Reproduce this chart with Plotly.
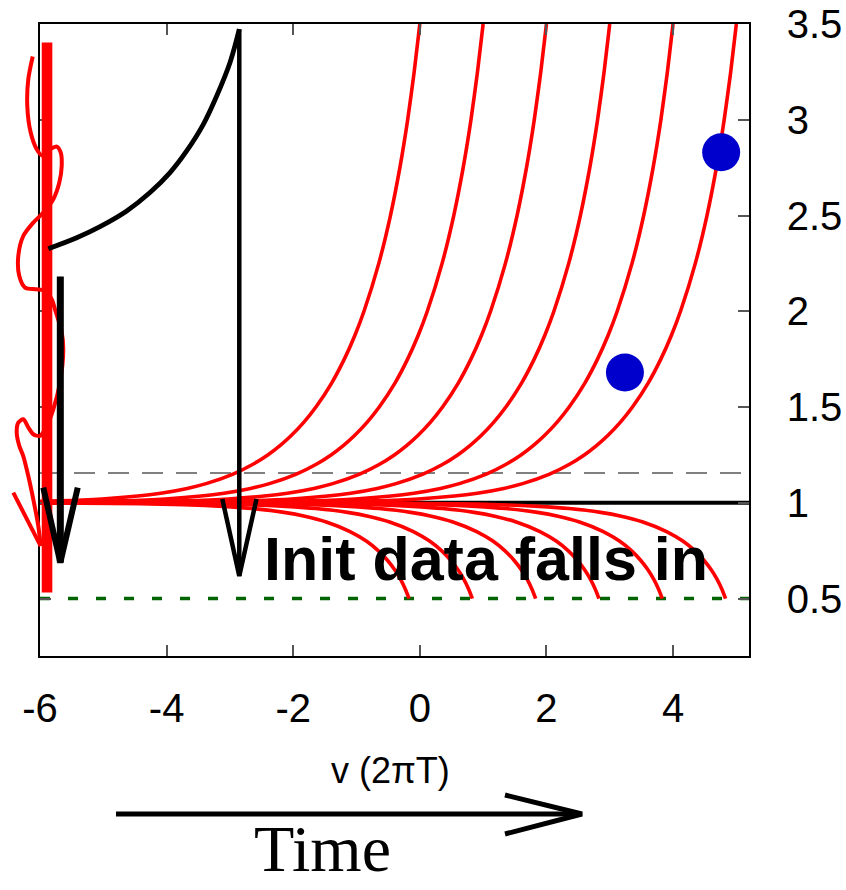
import plotly.graph_objects as go

# ---------------- data ----------------
# Outgoing / infalling null rays: one shared profile (radius vs. v offset from the
# point where the ray leaves the frame), shifted to each ray's exit time.
UP_R = [1.00001, 1.00002, 1.00005, 1.0001, 1.0002, 1.0005, 1.001, 1.002, 1.005,
        1.01, 1.02, 1.035, 1.05, 1.075, 1.1, 1.15, 1.2, 1.25, 1.3, 1.35, 1.42,
        1.5, 1.625, 1.75, 1.875, 2.0, 2.25, 2.5, 2.75, 3.0, 3.25, 3.5]
UP_DV = [-12.633, -11.939, -11.023, -10.330, -9.637, -8.720, -8.027, -7.333,
         -6.415, -5.720, -5.022, -4.455, -4.093, -3.674, -3.376, -2.950, -2.643,
         -2.402, -2.204, -2.035, -1.834, -1.641, -1.393, -1.193, -1.025, -0.882,
         -0.648, -0.464, -0.315, -0.192, -0.089, 0.0]
UP_END_V = [0.0, 1.0, 2.0, 3.0, 4.0, 5.0]

DN_R = [0.999995, 0.99999, 0.99998, 0.99995, 0.9999, 0.9998, 0.9995, 0.999,
        0.998, 0.995, 0.99, 0.98, 0.97, 0.95, 0.93, 0.9, 0.85, 0.8, 0.75, 0.7,
        0.65, 0.6, 0.55, 0.5]
DN_DV = [-11.157, -10.464, -9.771, -8.855, -8.161, -7.468, -6.552, -5.859,
         -5.167, -4.252, -3.561, -2.873, -2.473, -1.973, -1.647, -1.307, -0.932,
         -0.676, -0.488, -0.342, -0.227, -0.134, -0.060, 0.0]
DN_END_V = [-0.17, 0.83, 1.83, 2.83, 3.83, 4.83]

HORIZON_R = 1.0
DASH_R = 1.155
FLOOR_R = 0.5

DOT_V = [4.76, 3.24]
DOT_R = [2.83, 1.68]

# initial-data slice and its hand-drawn squiggle
BAR_V = [-5.889, -5.889]
BAR_R = [0.531, 3.403]
SQUIGGLE_V = [-6.115, -6.185, -6.201, -6.147, -6.052, -5.973, -5.842, -5.736,
              -5.673, -5.657, -5.695, -5.790, -5.948, -6.106, -6.264, -6.343,
              -6.327, -6.237, -6.052, -5.921, -5.815, -5.763, -5.657, -5.632,
              -5.684, -5.790, -5.894, -6.000, -6.106, -6.185, -6.264, -6.343,
              -6.368, -6.327, -6.264, -6.185, -6.106, -6.027, -5.989]
SQUIGGLE_R = [3.330, 3.211, 3.072, 2.933, 2.846, 2.815, 2.846, 2.860, 2.829,
              2.759, 2.672, 2.585, 2.515, 2.463, 2.393, 2.289, 2.184, 2.124,
              2.115, 2.106, 2.063, 2.010, 1.890, 1.802, 1.629, 1.488, 1.401,
              1.349, 1.358, 1.394, 1.436, 1.419, 1.367, 1.297, 1.244, 1.140,
              1.018, 0.879, 0.774]
SQUIGGLE_HEAD_V = [-6.422, -5.989]
SQUIGGLE_HEAD_R = [1.053, 0.774]

# black curve and the two drop arrows
CURVE_V = [-5.869, -5.420, -5.052, -4.630, -4.262, -3.946, -3.683, -3.420,
           -3.209, -2.998, -2.852]
CURVE_R = [2.327, 2.384, 2.442, 2.524, 2.620, 2.724, 2.837, 2.976, 3.124,
           3.299, 3.473]
ARROW1_V = [-2.852, -2.852]
ARROW1_R = [3.473, 0.618]
ARROW1_HEAD_V = [-3.12, -2.852, -2.58]
ARROW1_HEAD_R = [1.02, 0.618, 1.02]
ARROW2_V = [-5.679, -5.679]
ARROW2_R = [2.181, 0.688]
ARROW2_HEAD_V = [-5.948, -5.679, -5.404]
ARROW2_HEAD_R = [1.079, 0.688, 1.079]

X_RANGE = [-6.0, 5.2]
Y_RANGE = [0.2, 3.5]
X_TICKS = [-6, -4, -2, 0, 2, 4]
X_TICK_TEXT = ["-6", "-4", "-2", "0", "2", "4"]
Y_TICKS = [0.5, 1, 1.5, 2, 2.5, 3, 3.5]
Y_TICK_TEXT = ["0.5", "1", "1.5", "2", "2.5", "3", "3.5"]

# ---------------- layout geometry ----------------
W, H = 846, 890
PLOT_L, PLOT_R, PLOT_T, PLOT_B = 40, 749, 24, 656
ppu = (PLOT_R - PLOT_L) / (X_RANGE[1] - X_RANGE[0])
X2_RANGE = [X_RANGE[0] - PLOT_L / ppu, X_RANGE[1] + (W - PLOT_R) / ppu]


def pxx(x):
    return x / W


def pxy(y):
    return (PLOT_B - y) / (PLOT_B - PLOT_T)


RED = "#ff0000"
SANS = "Liberation Sans, Arial, Helvetica, sans-serif"
SERIF = "Liberation Serif, Times New Roman, serif"

fig = go.Figure()

# reference levels
fig.add_trace(go.Scatter(x=X_RANGE, y=[DASH_R, DASH_R], mode="lines",
                         line=dict(color="#808080", width=2, dash="21px,13px")))
fig.add_trace(go.Scatter(x=X_RANGE, y=[FLOOR_R, FLOOR_R], mode="lines",
                         line=dict(color="#006400", width=3.5, dash="10px,18px")))
fig.add_trace(go.Scatter(x=X_RANGE, y=[HORIZON_R, HORIZON_R], mode="lines",
                         line=dict(color="black", width=4)))

# rays
for ve in UP_END_V:
    fig.add_trace(go.Scatter(x=[ve + d for d in UP_DV], y=UP_R, mode="lines",
                             line=dict(color=RED, width=3.6, shape="spline",
                                       smoothing=0.6)))
for ve in DN_END_V:
    fig.add_trace(go.Scatter(x=[ve + d for d in DN_DV], y=DN_R, mode="lines",
                             line=dict(color=RED, width=3.6, shape="spline",
                                       smoothing=0.6)))

fig.add_trace(go.Scatter(x=DOT_V, y=DOT_R, mode="markers",
                         marker=dict(color="#0000cd", size=38, line=dict(width=0))))

# squiggle + black marks on a full-width companion axis (same scale, no clipping at v=-6)
fig.add_trace(go.Scatter(x=BAR_V, y=BAR_R, mode="lines", xaxis="x2",
                         line=dict(color=RED, width=10.6)))
fig.add_trace(go.Scatter(x=SQUIGGLE_V, y=SQUIGGLE_R, mode="lines", xaxis="x2",
                         line=dict(color=RED, width=4, shape="spline", smoothing=0.8)))
fig.add_trace(go.Scatter(x=SQUIGGLE_HEAD_V, y=SQUIGGLE_HEAD_R, mode="lines", xaxis="x2",
                         line=dict(color=RED, width=4)))
fig.add_trace(go.Scatter(x=CURVE_V, y=CURVE_R, mode="lines", xaxis="x2",
                         line=dict(color="black", width=4.8, shape="spline")))
fig.add_trace(go.Scatter(x=ARROW1_V, y=ARROW1_R, mode="lines", xaxis="x2",
                         line=dict(color="black", width=4.5)))
fig.add_trace(go.Scatter(x=ARROW1_HEAD_V, y=ARROW1_HEAD_R, mode="lines", xaxis="x2",
                         line=dict(color="black", width=4.5)))
fig.add_trace(go.Scatter(x=ARROW2_V, y=ARROW2_R, mode="lines", xaxis="x2",
                         line=dict(color="black", width=7)))
fig.add_trace(go.Scatter(x=ARROW2_HEAD_V, y=ARROW2_HEAD_R, mode="lines", xaxis="x2",
                         line=dict(color="black", width=6)))

axis_common = dict(showgrid=False, zeroline=False, showline=True, linecolor="black",
                   linewidth=1.5, ticks="inside", ticklen=11, tickwidth=1.5,
                   tickcolor="#555555", mirror="ticks", automargin=False,
                   tickfont=dict(family=SANS, size=40, color="black"))

fig.update_layout(
    width=W, height=H,
    margin=dict(l=0, r=0, t=PLOT_T, b=H - PLOT_B, pad=0, autoexpand=False),
    paper_bgcolor="white", plot_bgcolor="rgba(0,0,0,0)",
    showlegend=False,
    xaxis=dict(domain=[PLOT_L / W, PLOT_R / W], range=X_RANGE, tickvals=X_TICKS,
               ticktext=X_TICK_TEXT, ticklabelstandoff=16, **axis_common),
    xaxis2=dict(domain=[0, 1], range=X2_RANGE, anchor="y", visible=False,
                automargin=False),
    yaxis=dict(domain=[0, 1], range=Y_RANGE, side="right", tickvals=Y_TICKS,
               ticktext=Y_TICK_TEXT, ticklabelstandoff=28, **axis_common),
    annotations=[
        dict(text="<b>Init data falls in</b>", x=1.046, y=0.705, xref="x", yref="y",
             showarrow=False, xanchor="center", yanchor="middle",
             font=dict(family=SANS, size=61, color="black")),
        dict(text="v (2\u03c0T)", x=pxx(390), y=pxy(770), xref="paper", yref="paper",
             showarrow=False, xanchor="center", yanchor="middle",
             font=dict(family=SANS, size=36, color="black")),
        dict(text="Time", x=pxx(322.5), y=pxy(848), xref="paper", yref="paper",
             showarrow=False, xanchor="center", yanchor="middle",
             font=dict(family=SERIF, size=66, color="black")),
    ],
    shapes=[
        dict(type="line", xref="paper", yref="paper", x0=pxx(116), x1=pxx(578),
             y0=pxy(814), y1=pxy(814), line=dict(color="black", width=5)),
        dict(type="path", xref="paper", yref="paper",
             path=f"M {pxx(505)},{pxy(795)} L {pxx(582)},{pxy(814)} L {pxx(505)},{pxy(834)}",
             line=dict(color="black", width=5)),
    ],
)

fig.write_html("out.html")
